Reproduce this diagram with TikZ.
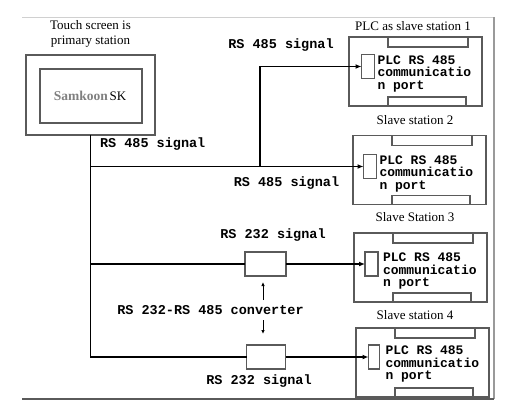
\documentclass[tikz,border=0pt]{standalone}
\usepackage{fontspec}
\setmainfont{Liberation Serif}
\newfontfamily\monofont{Liberation Mono}
\usetikzlibrary{arrows.meta}
\definecolor{boxgray}{HTML}{5A5A5A}
\definecolor{framegray}{HTML}{9A9A9A}
\definecolor{framelight}{HTML}{D0D0D0}
\newcommand\slavenotches[1]{%
  \draw[boxline] ([xshift=39pt]#1.north west) -- ++(0,10) -| ([xshift=-14pt]#1.north east);
  \draw[boxline] ([xshift=39pt]#1.south west) -- ++(0,-9) -| ([xshift=-16pt]#1.south east);
}
\begin{document}
\begin{tikzpicture}[x=1pt,y=-1pt,
  every node/.style={inner sep=0pt,outer sep=0pt},
  boxline/.style={draw=boxgray,line width=1.3pt},
  sbox/.style={boxline,rectangle,minimum width=133pt,minimum height=69pt},
  portbox/.style={boxline,rectangle,minimum width=13pt,minimum height=24pt},
  convbox/.style={boxline,rectangle,minimum width=41pt,minimum height=24pt},
  serif/.style={font=\fontsize{13}{15}\selectfont},
  ptext/.style={font=\monofont\bfseries\fontsize{13}{12.5}\selectfont,align=left,anchor=north west},
  lbl/.style={font=\monofont\bfseries\fontsize{13.5}{15}\selectfont},
  conn/.style={line width=1.5pt,black},
  arr/.style={conn,-{Latex[length=6pt,width=5pt]}},
  small/.style={line width=0.9pt,black,-{Latex[length=4pt,width=3.5pt]}}
]
\useasboundingbox (0,0) rectangle (506,407);
% frame
\draw[framelight,line width=1pt] (22,17) -- (494,17);
\draw[framegray,line width=1.3pt] (494,17) -- (494,399);
\draw[boxgray,line width=1.5pt] (22,399) -- (494,399);

% touch screen
\node[serif,align=center] (tstitle) at (90.5,34) {Touch screen is\\primary station};
\node[boxline,rectangle,minimum width=129pt,minimum height=80pt] (ts) at (90.5,95) {};
\node[boxline,rectangle,minimum width=102pt,minimum height=54pt] (tsin) at (91,96) {};
\node (tstext) at (90,96) {\textcolor{gray}{\fontsize{13.5}{15}\selectfont\bfseries Samkoon}\,\fontsize{13}{15}\selectfont SK};

% slave stations
\node[serif] (st1) at (413,26) {PLC as slave station 1};
\node[sbox] (s1) at (415.5,71.5) {};
\slavenotches{s1}
\node[portbox] (p1) at (368,66.5) {};
\node[ptext] (t1) at ([xshift=3pt,yshift=-1pt]p1.north east) {PLC RS 485\\communicatio\\n port};

\node[serif] (st2) at (415,120) {Slave station 2};
\node[sbox] (s2) at (419.5,170) {};
\slavenotches{s2}
\node[portbox] (p2) at (370,166.5) {};
\node[ptext] (t2) at ([xshift=3pt,yshift=-1pt]p2.north east) {PLC RS 485\\communicatio\\n port};

\node[serif] (st3) at (415,217) {Slave Station 3};
\node[sbox] (s3) at (420.5,267.5) {};
\slavenotches{s3}
\node[portbox] (p3) at (371.5,264) {};
\node[ptext] (t3) at ([xshift=5pt,yshift=-1pt]p3.north east) {PLC RS 485\\communicatio\\n port};

\node[serif] (st4) at (415,315) {Slave station 4};
\node[sbox] (s4) at (422.5,362.5) {};
\slavenotches{s4}
\node[portbox,minimum width=11pt] (p4) at (374,357) {};
\node[ptext] (t4) at ([xshift=6pt,yshift=-1pt]p4.north east) {PLC RS 485\\communicatio\\n port};

% converters
\node[convbox] (c1) at (265.5,264) {};
\node[convbox,minimum width=39pt] (c2) at (266,357) {};

% labels
\node[lbl,anchor=west] (l1) at (100,144) {RS 485 signal};
\node[lbl] (l2) at (281,45) {RS 485 signal};
\node[lbl] (l3) at (286.5,183) {RS 485 signal};
\node[lbl] (l4) at (273,235) {RS 232 signal};
\node[lbl] (l5) at (210.5,310) {RS 232-RS 485 converter};
\node[lbl] (l6) at (259,381) {RS 232 signal};

% connectors
\coordinate (j) at (260,166.5);
\draw[conn] (ts.south) |- (c2.west);
\draw[arr] (ts.south |- p2.west) -- (p2.west);
\draw[arr] (j) |- (p1.west);
\draw[conn] (ts.south |- c1.west) -- (c1.west);
\draw[arr] (c1.east) -- (p3.west);
\draw[arr] (c2.east) -- (p4.west);
\coordinate (ua) at (263,300);
\coordinate (da) at (263,320);
\draw[small,shorten >=6pt] (ua) -- (ua |- c1.south);
\draw[small,shorten >=11pt] (da) -- (da |- c2.north);
\end{tikzpicture}
\end{document}
